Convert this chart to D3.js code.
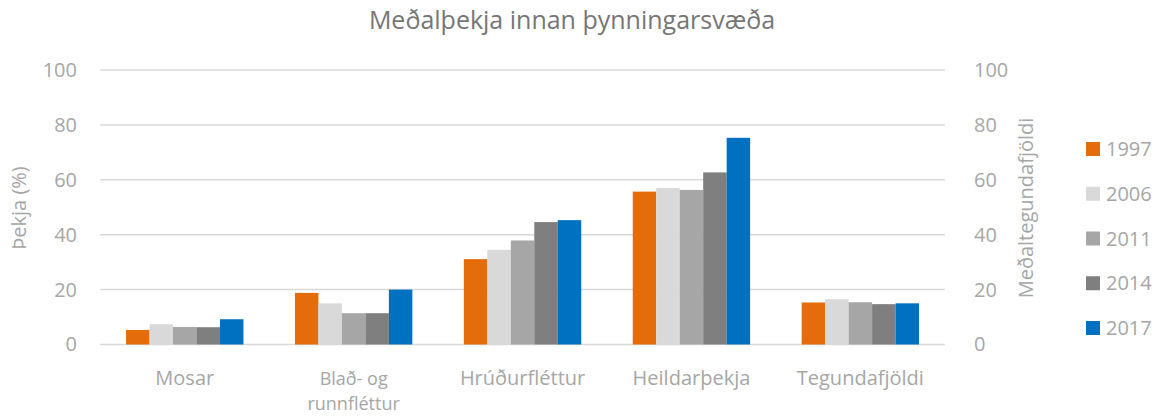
<!DOCTYPE html>
<html><head><meta charset="utf-8">
<script src="https://cdn.jsdelivr.net/npm/d3@7"></script>
<style>body{margin:0;background:#fff}svg{display:block;font-family:"Open Sans",sans-serif}</style>
</head><body><svg id="c" width="1162" height="416"></svg>
<script>
const categories = [["Mosar"], ["Blað- og", "runnfléttur"], ["Hrúðurfléttur"], ["Heildarþekja"], ["Tegundafjöldi"]];
const years = ["1997", "2006", "2011", "2014", "2017"];
const v1997 = [5.3, 18.8, 31.1, 55.7, 15.3];
const v2006 = [7.4, 15.0, 34.5, 57.0, 16.5];
const v2011 = [6.4, 11.4, 37.9, 56.3, 15.4];
const v2014 = [6.3, 11.4, 44.6, 62.7, 14.7];
const v2017 = [9.2, 20.0, 45.3, 75.3, 15.0];
const series = [v1997, v2006, v2011, v2014, v2017];
const colors = ["#E46C0A", "#D9D9D9", "#A6A6A6", "#7F7F7F", "#0070C0"];
const ticks = [0, 20, 40, 60, 80, 100];

const svg = d3.select("#c");
const L = 100.3, R = 944.8, T = 70, B = 344.5;
const x = d3.scaleBand().domain(d3.range(categories.length)).range([L, R]).paddingInner(0.305).paddingOuter(0.1525);
const xi = d3.scaleBand().domain(d3.range(years.length)).range([0, x.bandwidth()]);
const y = d3.scaleLinear().domain([0, 100]).range([B, T]);
const grey = "#A6A6A6";

// gridlines
svg.append("g").selectAll("line").data(ticks).join("line")
  .attr("x1", L).attr("x2", R).attr("y1", d => y(d)).attr("y2", d => y(d))
  .attr("stroke", "#D9D9D9").attr("stroke-width", 1.5);

// left axis
const la = svg.append("g").attr("transform", `translate(77,0)`)
  .call(d3.axisLeft(y).tickValues(ticks).tickSize(0).tickPadding(0));
la.select(".domain").remove();
la.selectAll("text").attr("fill", grey).attr("font-size", 20).attr("font-family", "Open Sans");
// right axis
const ra = svg.append("g").attr("transform", `translate(974,0)`)
  .call(d3.axisRight(y).tickValues(ticks).tickSize(0).tickPadding(0));
ra.select(".domain").remove();
ra.selectAll("text").attr("fill", grey).attr("font-size", 20).attr("font-family", "Open Sans");

// bars
const g = svg.append("g");
series.forEach((s, si) => {
  g.append("g").selectAll("rect").data(s).join("rect")
    .attr("x", (d, i) => x(i) + xi(si))
    .attr("width", xi.bandwidth())
    .attr("y", d => y(d))
    .attr("height", d => y(0) - y(d))
    .attr("fill", colors[si]);
});

// category labels (one text element per line)
const lines = [];
categories.forEach((c, i) => c.forEach((t, j) => lines.push({ i, j, t, n: c.length })));
svg.append("g").selectAll("text").data(lines).join("text")
  .attr("x", d => x(d.i) + x.bandwidth() / 2)
  .attr("y", d => 385 + d.j * 24.6).attr("text-anchor", "middle")
  .attr("fill", grey).attr("font-size", d => d.n > 1 ? 18 : 20).text(d => d.t);

// title
svg.append("text").attr("x", 572).attr("y", 29).attr("text-anchor", "middle")
  .attr("fill", "#767676").attr("font-size", 25).text("Meðalþekja innan þynningarsvæða");

// axis titles
svg.append("text").attr("transform", "translate(26,208) rotate(-90)").attr("text-anchor", "middle")
  .attr("fill", grey).attr("font-size", 20).text("Þekja (%)");
svg.append("text").attr("transform", "translate(1033,208) rotate(-90)").attr("text-anchor", "middle")
  .attr("fill", grey).attr("font-size", 20).text("Meðaltegundafjöldi");

// legend
const ly = d3.scalePoint().domain(years).range([149, 328]);
const lg = svg.append("g").selectAll("g").data(years).join("g")
  .attr("transform", d => `translate(1086,${ly(d)})`);
lg.append("rect").attr("x", 0).attr("y", -7).attr("width", 14).attr("height", 14)
  .attr("fill", (d, i) => colors[i]);
lg.append("text").attr("x", 20).attr("y", 0).attr("dy", "0.35em")
  .attr("fill", grey).attr("font-size", 20).text(d => d);
</script></body></html>
